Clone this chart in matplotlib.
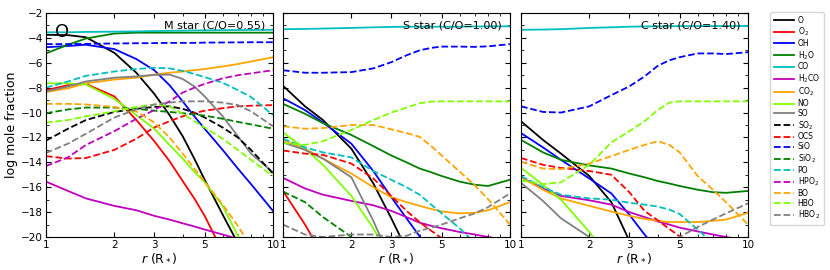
import numpy as np
import matplotlib
matplotlib.use("Agg")
import matplotlib.pyplot as plt
from matplotlib.ticker import FixedLocator, NullFormatter, MultipleLocator

nan = np.nan

# radius grid (stellar radii)
r = [1, 1.25, 1.5, 2, 2.5, 3, 3.5, 4, 4.5, 5, 6, 7, 8, 10]

species = ["O", "O$_2$", "OH", "H$_2$O", "CO", "H$_2$CO", "CO$_2$", "NO", "SO",
           "SO$_2$", "OCS", "SiO", "SiO$_2$", "PO", "HPO$_2$", "BO", "HBO", "HBO$_2$"]
colors = ["k", "r", "b", "g", "c", "m", "orange", "chartreuse", "gray"] * 2
styles = ["-"] * 9 + ["--"] * 9

# log mole fractions, M star (C/O=0.55)
m_O = [-3.75, -3.78, -3.95, -5.2, -6.8, -8.5, -10.2, -11.9, -13.7, -15.4, -18.2, -20.5, nan, nan]
m_O2 = [-8.2, -7.8, -7.7, -8.7, -10.6, -12.3, -13.9, -15.5, -16.9, -18.3, -21.2, nan, nan, nan]
m_OH = [-4.75, -4.65, -4.55, -4.9, -5.7, -6.6, -7.8, -9.1, -10.3, -11.3, -13.0, -14.5, -15.75, -17.9]
m_H2O = [-5.25, -4.55, -4.05, -3.65, -3.58, -3.58, -3.58, -3.58, -3.58, -3.58, -3.58, -3.58, -3.58, -3.58]
m_CO = [-3.55, -3.55, -3.52, -3.5, -3.48, -3.45, -3.43, -3.42, -3.4, -3.4, -3.38, -3.37, -3.36, -3.35]
m_H2CO = [-15.55, -16.3, -16.9, -17.5, -17.85, -18.3, -18.6, -18.9, -19.15, -19.4, -19.8, -20.15, nan, nan]
m_CO2 = [-8.35, -8.05, -7.65, -7.35, -7.2, -6.95, -6.8, -6.7, -6.6, -6.5, -6.3, -6.1, -5.9, -5.55]
m_NO = [-7.65, -7.65, -7.75, -8.9, -10.2, -11.3, -12.6, -13.7, -14.75, -15.6, -17.5, -19.9, -21.5, nan]
m_SO = [-8.3, -7.9, -7.5, -7.2, -7.1, -6.97, -6.95, -7.3, -7.9, -8.7, -10.3, -11.9, -13.3, -14.8]
m_SO2 = [-12.25, -11.3, -10.6, -9.95, -9.7, -9.55, -9.5, -9.7, -10.0, -10.4, -11.2, -12.0, -13.0, -14.9]
m_OCS = [-13.5, -13.7, -13.65, -13.0, -12.1, -11.2, -10.7, -10.3, -10.05, -9.85, -9.65, -9.5, -9.45, -9.4]
m_SiO = [-4.5, -4.5, -4.48, -4.45, -4.43, -4.42, -4.4, -4.4, -4.4, -4.38, -4.37, -4.36, -4.35, -4.35]
m_SiO2 = [-10.05, -9.75, -9.6, -9.6, -9.7, -9.85, -9.95, -10.05, -10.15, -10.25, -10.5, -10.75, -10.95, -11.3]
m_PO = [-8.0, -7.5, -7.05, -6.7, -6.5, -6.4, -6.45, -6.65, -6.9, -7.15, -7.6, -8.2, -8.75, -10.2]
m_HPO2 = [-14.3, -13.6, -12.6, -11.5, -10.5, -9.8, -9.1, -8.4, -8.0, -7.7, -7.25, -7.0, -6.85, -6.6]
m_BO = [-9.3, -9.3, -9.35, -9.55, -9.9, -10.8, -12.0, -13.3, -14.5, -15.55, -17.4, -19.1, -20.8, nan]
m_HBO = [-10.8, -10.6, -10.3, -9.9, -9.55, -9.35, -9.5, -10.1, -10.7, -11.2, -12.1, -13.0, -13.8, -15.1]
m_HBO2 = [-13.25, -12.5, -11.7, -10.4, -9.75, -9.35, -9.2, -9.1, -9.1, -9.1, -9.2, -9.4, -9.9, -11.1]

# S star (C/O=1.00)
s_O = [-7.85, -9.5, -10.6, -12.9, -15.7, -18.5, -21.0, nan, nan, nan, nan, nan, nan, nan]
s_O2 = [-16.3, -19.0, -21.5, nan, nan, nan, nan, nan, nan, nan, nan, nan, nan, nan]
s_OH = [-8.85, -9.8, -10.8, -12.5, -14.7, -16.8, -18.5, -19.95, -21.3, nan, nan, nan, nan, nan]
s_H2O = [-9.3, -10.1, -10.85, -11.8, -12.7, -13.45, -14.0, -14.5, -14.8, -15.1, -15.55, -15.8, -15.9, -15.4]
s_CO = [-3.3, -3.28, -3.25, -3.2, -3.15, -3.12, -3.1, -3.1, -3.1, -3.1, -3.1, -3.08, -3.08, -3.07]
s_H2CO = [-15.25, -16.1, -16.6, -17.1, -17.45, -17.9, -18.4, -18.85, -19.1, -19.3, -19.6, -19.8, -20.0, -20.3]
s_CO2 = [-12.2, -12.9, -13.7, -14.9, -16.0, -16.8, -17.2, -17.5, -17.75, -17.95, -18.1, -18.05, -17.85, -17.2]
s_NO = [-11.6, -12.9, -14.2, -16.7, -19.3, -22.0, nan, nan, nan, nan, nan, nan, nan, nan]
s_SO = [-12.4, -13.0, -13.7, -15.2, -18.7, -22.0, nan, nan, nan, nan, nan, nan, nan, nan]
s_SO2 = [nan] * 14
s_OCS = [-13.05, -13.3, -13.4, -14.1, -15.3, -16.7, -17.9, -18.8, -19.5, -20.1, nan, nan, nan, nan]
s_SiO = [-6.6, -6.8, -6.8, -6.75, -6.45, -5.95, -5.4, -5.0, -4.8, -4.7, -4.7, -4.72, -4.68, -4.5]
s_SiO2 = [-16.35, -17.2, -18.4, -20.0, -21.0, nan, nan, nan, nan, nan, nan, nan, nan, nan]
s_PO = [-12.1, -12.8, -13.2, -13.6, -14.7, -15.4, -16.0, -16.6, -17.4, -18.1, -19.3, -20.5, nan, nan]
s_HPO2 = [nan] * 14
s_BO = [-11.1, -11.3, -11.25, -11.0, -11.0, -11.35, -11.65, -11.95, -12.7, -13.45, -14.75, -15.85, -16.95, -19.0]
s_HBO = [-12.45, -12.6, -12.3, -11.4, -10.6, -10.0, -9.6, -9.25, -9.12, -9.1, -9.1, -9.1, -9.1, -9.1]
s_HBO2 = [-19.0, -19.8, -20.0, -19.8, -19.8, -20.0, -19.9, -19.5, -19.25, -19.0, -18.5, -18.1, -17.6, -16.5]

# C star (C/O=1.40)
c_O = [-10.7, -12.2, -13.3, -15.1, -17.2, -20.3, nan, nan, nan, nan, nan, nan, nan, nan]
c_O2 = [nan] * 14
c_OH = [-11.65, -12.8, -13.8, -15.3, -16.5, -18.2, -19.8, -21.0, nan, nan, nan, nan, nan, nan]
c_H2O = [-12.2, -13.2, -13.8, -14.25, -14.5, -14.9, -15.2, -15.5, -15.7, -15.9, -16.2, -16.4, -16.45, -16.3]
c_CO = [-3.35, -3.33, -3.3, -3.2, -3.15, -3.1, -3.08, -3.07, -3.06, -3.06, -3.05, -3.05, -3.05, -3.05]
c_H2CO = [-15.2, -16.1, -16.7, -17.05, -17.4, -18.0, -18.4, -18.75, -19.0, -19.25, -19.55, -19.8, -20.0, -20.3]
c_CO2 = [-15.2, -16.2, -16.9, -17.5, -17.95, -18.3, -18.55, -18.7, -18.8, -18.8, -18.8, -18.7, -18.6, -18.05]
c_NO = [-14.45, -15.8, -17.0, -19.6, -22.0, nan, nan, nan, nan, nan, nan, nan, nan, nan]
c_SO = [-15.65, -17.1, -18.5, -20.0, -21.0, nan, nan, nan, nan, nan, nan, nan, nan, nan]
c_SO2 = [nan] * 14
c_OCS = [-13.65, -14.2, -14.45, -14.7, -15.0, -16.4, -17.9, -18.65, -19.35, -19.95, -21.0, nan, nan, nan]
c_SiO = [-9.5, -9.95, -10.0, -9.5, -8.6, -7.9, -7.1, -6.25, -5.8, -5.55, -5.25, -5.25, -5.3, -5.15]
c_SiO2 = [nan] * 14
c_PO = [-15.1, -16.0, -16.6, -16.9, -17.0, -17.25, -17.4, -17.55, -17.8, -18.15, -19.4, -20.5, nan, nan]
c_HPO2 = [nan] * 14
c_BO = [-13.95, -14.5, -14.55, -14.1, -13.5, -13.0, -12.6, -12.3, -12.6, -13.2, -15.1, -16.2, -17.2, -19.0]
c_HBO = [-15.45, -15.75, -15.6, -14.2, -12.4, -11.5, -10.7, -9.8, -9.2, -9.1, -9.1, -9.1, -9.1, -9.1]
c_HBO2 = [nan, nan, nan, nan, nan, nan, nan, nan, -20.6, -20.0, -19.2, -18.6, -18.1, -17.3]

panels = [
    ("M star (C/O=0.55)", [m_O, m_O2, m_OH, m_H2O, m_CO, m_H2CO, m_CO2, m_NO, m_SO,
                           m_SO2, m_OCS, m_SiO, m_SiO2, m_PO, m_HPO2, m_BO, m_HBO, m_HBO2]),
    ("S star (C/O=1.00)", [s_O, s_O2, s_OH, s_H2O, s_CO, s_H2CO, s_CO2, s_NO, s_SO,
                           s_SO2, s_OCS, s_SiO, s_SiO2, s_PO, s_HPO2, s_BO, s_HBO, s_HBO2]),
    ("C star (C/O=1.40)", [c_O, c_O2, c_OH, c_H2O, c_CO, c_H2CO, c_CO2, c_NO, c_SO,
                           c_SO2, c_OCS, c_SiO, c_SiO2, c_PO, c_HPO2, c_BO, c_HBO, c_HBO2]),
]

fig = plt.figure(figsize=(8.3, 2.7), dpi=100)
lefts = [46 / 830, 283 / 830, 521 / 830]
w = 227 / 830
b = 1 - 237 / 270
h = 224 / 270

handles = []
for i, (title, data) in enumerate(panels):
    ax = fig.add_axes([lefts[i], b, w, h])
    for k, y in enumerate(data):
        ln, = ax.plot(r, y, color=colors[k], ls=styles[k], lw=1.3, label=species[k])
        if i == 0:
            handles.append(ln)
    ax.set_xscale("log")
    ax.set_xlim(1, 10)
    ax.set_ylim(-20, -2)
    ax.xaxis.set_major_locator(FixedLocator([1, 2, 3, 5, 10]))
    ax.set_xticklabels(["1", "2", "3", "5", "10"])
    ax.xaxis.set_minor_locator(FixedLocator([4, 6, 7, 8, 9]))
    ax.xaxis.set_minor_formatter(NullFormatter())
    ax.yaxis.set_major_locator(MultipleLocator(2))
    ax.yaxis.set_minor_locator(MultipleLocator(1))
    ax.tick_params(which="both", direction="in", top=True, right=True, labelsize=7.5, pad=2)
    ax.tick_params(which="major", length=3.5)
    ax.tick_params(which="minor", length=2)
    ax.text(0.965, 0.945, title, transform=ax.transAxes, ha="right", va="center", fontsize=8)
    ax.set_xlabel("$r$ (R$_*$)", fontsize=9, labelpad=1)
    if i == 0:
        ax.set_ylabel("log mole fraction", fontsize=9, labelpad=2)
        ax.text(0.07, 0.915, "O", transform=ax.transAxes, ha="center", va="center", fontsize=13)
    else:
        ax.set_yticklabels([])

fig.legend(handles=handles, loc="upper left", bbox_to_anchor=(770 / 830, 1 - 12 / 270),
           fontsize=5.5, handlelength=2.6, labelspacing=0.12, borderpad=0.5,
           handletextpad=0.5, borderaxespad=0, frameon=True)

fig.savefig("out.png", dpi=100)
